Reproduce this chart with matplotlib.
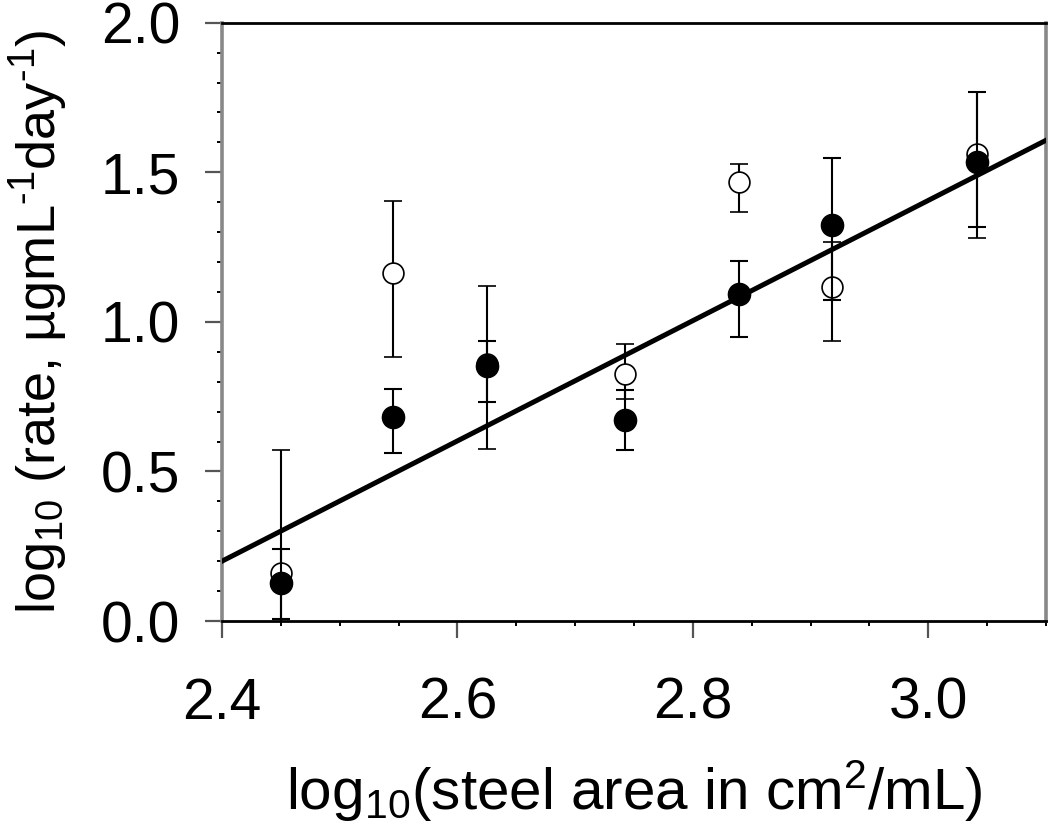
import matplotlib
matplotlib.use("Agg")
import matplotlib.pyplot as plt
from matplotlib.ticker import MultipleLocator

# log10 steel area (cm2/mL)
area = [2.45, 2.545, 2.625, 2.742, 2.839, 2.918, 3.041]

# open circles
open_rate = [0.16, 1.164, 0.86, 0.826, 1.468, 1.117, 1.56]
open_err_lo = [0.41, 0.28, 0.285, 0.085, 0.10, 0.18, 0.28]
open_err_hi = [0.41, 0.24, 0.26, 0.10, 0.06, 0.15, 0.21]

# filled circles
filled_rate = [0.127, 0.682, 0.853, 0.672, 1.094, 1.324, 1.535]
filled_err_lo = [0.12, 0.12, 0.12, 0.10, 0.144, 0.25, 0.217]
filled_err_hi = [0.113, 0.094, 0.083, 0.10, 0.11, 0.224, 0.235]

# regression line
fit_slope = 2.01
fit_intercept = 0.2 - 2.01 * 2.4
fit_x = [2.4, 3.1]

plt.rcParams['font.family'] = ['Liberation Sans', 'DejaVu Sans']
plt.rcParams['mathtext.default'] = 'regular'

fig = plt.figure(figsize=(10.5, 8.32), dpi=100)
ax = fig.add_axes([0.2114, 0.2536, 0.7848, 0.7191])

ax.errorbar(area, open_rate, yerr=[open_err_lo, open_err_hi], fmt='o',
            color='black', mfc='white', mec='black', mew=1.2, ms=15,
            elinewidth=1.5, capsize=6.5, capthick=1.5, zorder=3)
ax.errorbar(area, filled_rate, yerr=[filled_err_lo, filled_err_hi], fmt='o',
            color='black', mfc='black', mec='black', ms=16,
            elinewidth=1.5, capsize=6.5, capthick=1.5, zorder=4)

fit_y = [fit_intercept + fit_slope * x for x in fit_x]
ax.plot(fit_x, fit_y, color='black', lw=3.6, zorder=5)

ax.set_xlim(2.4, 3.1)
ax.set_ylim(0, 2.0)

ax.xaxis.set_minor_locator(MultipleLocator(0.05))
ax.yaxis.set_minor_locator(MultipleLocator(0.1))
ax.set_xticks([2.4, 2.6, 2.8, 3.0])
ax.set_xticklabels(['2.4', '2.6', '2.8', '3.0'])
ax.set_yticks([0.0, 0.5, 1.0, 1.5, 2.0])
ax.set_yticklabels(['0.0', '0.5', '1.0', '1.5', '2.0'])

ax.tick_params(which='major', direction='out', length=12, width=1.6,
               labelsize=41, color='#555555')
ax.tick_params(axis='x', which='major', pad=28)
ax.tick_params(axis='y', which='major', pad=18)
ax.tick_params(which='minor', direction='out', length=3.5, width=1.4,
               color='black')

for side in ['left', 'right']:
    ax.spines[side].set_color('#888888')
    ax.spines[side].set_linewidth(2.6)
for side in ['top', 'bottom']:
    ax.spines[side].set_color('black')
    ax.spines[side].set_linewidth(2.0)

ax.set_xlabel('log$_{10}$(steel area in cm$^{2}$/mL)', fontsize=42, labelpad=20)
ax.set_ylabel('log$_{10}$ (rate, \u00b5gmL$^{\u2010 1}$day$^{\u2010 1}$)',
              fontsize=39, labelpad=22)

fig.savefig('out.png', dpi=100)
